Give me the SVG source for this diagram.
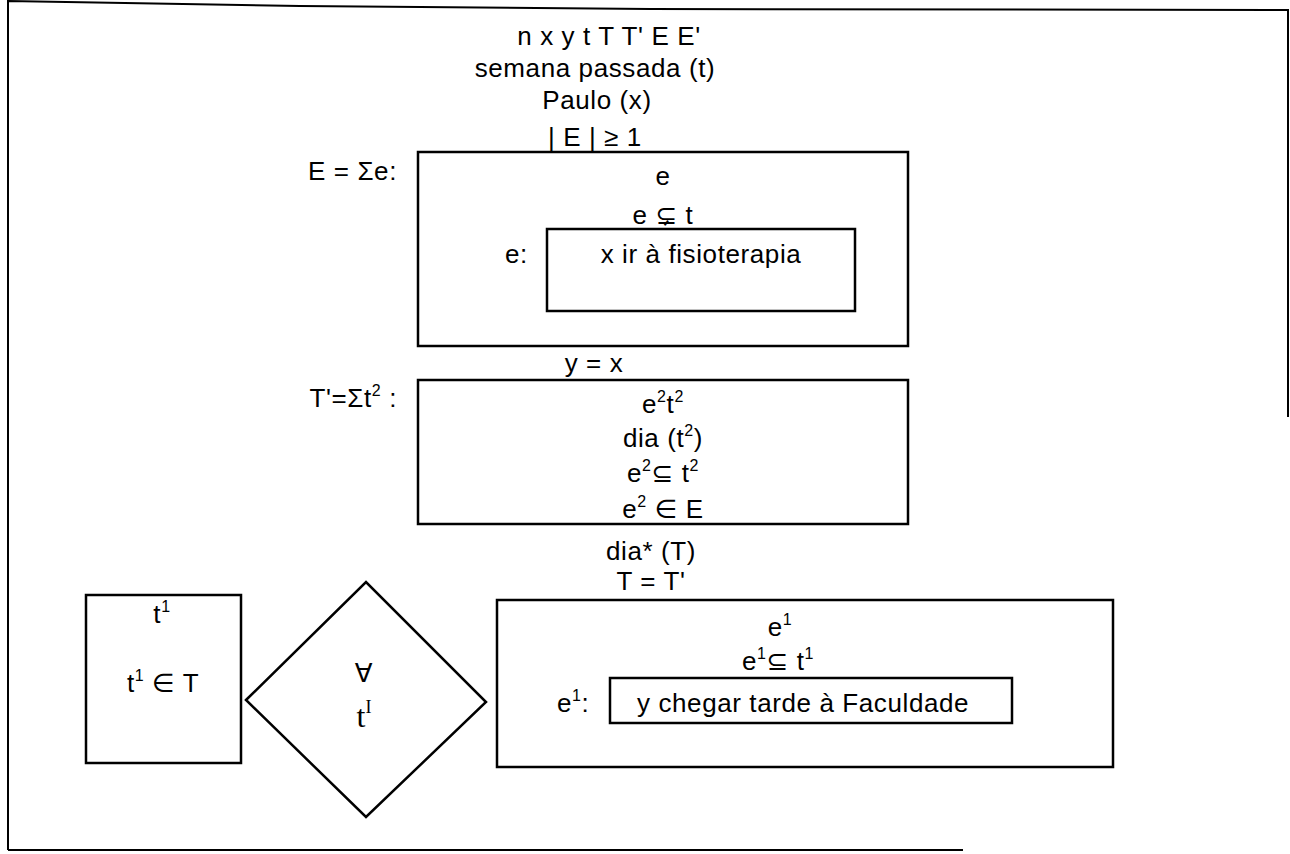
<svg xmlns="http://www.w3.org/2000/svg" width="1290" height="854" viewBox="0 0 1290 854">
<style>
.t{font-family:"Liberation Sans","DejaVu Sans",sans-serif;font-size:26px;fill:#000;letter-spacing:0.6px}
.m{text-anchor:middle}
.e{text-anchor:end}
.box{fill:none;stroke:#000;stroke-width:2.5}
.fr{fill:none;stroke:#000;stroke-width:2}
.sup{font-size:16px}
.sr{font-family:"Liberation Serif","DejaVu Serif",serif;font-size:32px}
</style>
<rect width="1290" height="854" fill="#fff"/>
<g id="frame">
<polyline class="fr" points="8,850 8,1 300,6 650,9 1288,10 1288,417"/>
<line class="fr" x1="8" y1="850" x2="963" y2="850"/>
</g>
<g id="header">
<text class="t m" x="609" y="45">n x y t T T' E E'</text>
<text class="t m" x="595" y="77">semana passada (t)</text>
<text class="t m" x="597" y="109">Paulo (x)</text>
<text class="t" x="548" y="146">| E | ≥ 1</text>
</g>
<g id="box-E">
<text class="t e" x="397" y="180">E = Σe:</text>
<rect class="box" x="418" y="152" width="490" height="194"/>
<text class="t m" x="663" y="185">e</text>
<text class="t m" x="663" y="224">e ⊊ t</text>
</g>
<g id="box-e">
<text class="t" x="505" y="263">e:</text>
<rect class="box" x="547" y="229" width="308" height="82"/>
<text class="t m" x="701" y="263">x ir à fisioterapia</text>
</g>
<g id="label-yx">
<text class="t m" x="594" y="372">y = x</text>
</g>
<g id="box-T">
<text class="t e" x="397" y="407">T'=Σt<tspan class="sup" dy="-11">2</tspan><tspan dy="11"> :</tspan></text>
<rect class="box" x="418" y="380" width="490" height="144"/>
<text class="t m" x="663" y="413">e<tspan class="sup" dy="-11">2</tspan><tspan dy="11">t</tspan><tspan class="sup" dy="-11">2</tspan></text>
<text class="t m" x="663" y="447">dia (t<tspan class="sup" dy="-11">2</tspan><tspan dy="11">)</tspan></text>
<text class="t m" x="663" y="482">e<tspan class="sup" dy="-11">2</tspan><tspan dy="11">⊆ t</tspan><tspan class="sup" dy="-11">2</tspan></text>
<text class="t m" x="663" y="518">e<tspan class="sup" dy="-11">2</tspan><tspan dy="11"> ∈ E</tspan></text>
</g>
<g id="label-dia">
<text class="t m" x="651" y="560">dia* (T)</text>
<text class="t m" x="651" y="590">T = T'</text>
</g>
<g id="box-t1">
<rect class="box" x="86" y="595" width="155" height="168"/>
<text class="t m" x="162" y="623">t<tspan class="sup" dy="-11">1</tspan></text>
<text class="t m" x="163" y="692">t<tspan class="sup" dy="-11">1</tspan><tspan dy="11"> ∈ T</tspan></text>
</g>
<g id="diamond">
<polygon class="box" points="246,700 366,582 486,702 366,817"/>
<text class="t m" x="364" y="682">∀</text>
<text class="sr m" x="364" y="727">t<tspan font-size="18" dy="-14">I</tspan></text>
</g>
<g id="box-e1">
<rect class="box" x="497" y="600" width="616" height="167"/>
<text class="t m" x="780" y="636">e<tspan class="sup" dy="-11">1</tspan></text>
<text class="t m" x="778" y="670">e<tspan class="sup" dy="-11">1</tspan><tspan dy="11">⊆ t</tspan><tspan class="sup" dy="-11">1</tspan></text>
<text class="t" x="557" y="712">e<tspan class="sup" dy="-11">1</tspan><tspan dy="11">:</tspan></text>
</g>
<g id="box-e1-inner">
<rect class="box" x="610" y="678" width="402" height="45"/>
<text class="t" x="637" y="712">y chegar tarde à Faculdade</text>
</g>
<g id="connectors"/>
</svg>
